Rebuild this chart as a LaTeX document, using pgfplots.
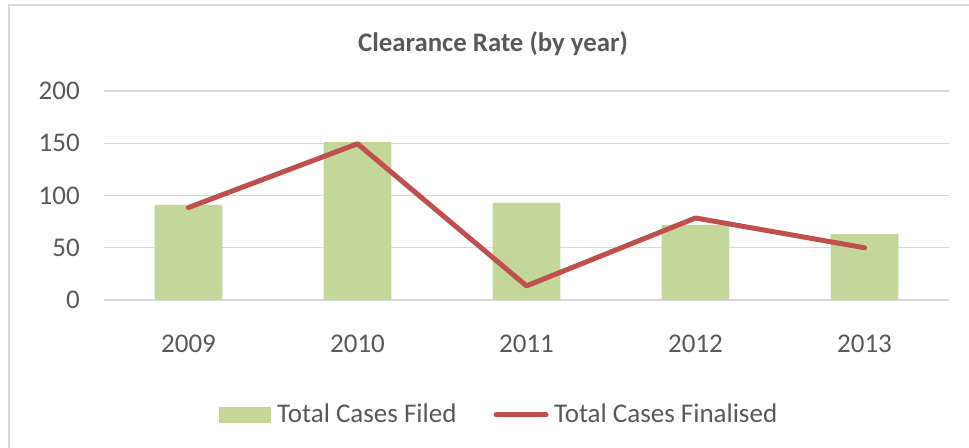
\documentclass[border=0pt]{standalone}
\usepackage{fontspec}
\setmainfont{Carlito}
\usepackage{pgfplots}
\pgfplotsset{compat=1.18}
\definecolor{barfill}{HTML}{C4D79B}
\definecolor{linered}{HTML}{C0504D}
\definecolor{txtgray}{HTML}{595959}
\definecolor{gridgray}{HTML}{D9D9D9}

\begin{document}
\fontsize{27bp}{32bp}\selectfont
\begin{tikzpicture}
% page = 969 x 448, plot area lower left at (0,0)
\path[use as bounding box] (-104bp,-148bp) rectangle (865bp,300bp);
\draw[gridgray, line width=1.4bp] (-95bp,-160bp) -- (-95bp,295bp) -- (880bp,295bp);
\node[anchor=base, text=txtgray, font=\fontsize{26.8bp}{32bp}\selectfont\bfseries, inner sep=0pt] at (389bp,248bp) {Clearance Rate (by year)};
\begin{axis}[
  at={(0bp,0bp)}, anchor=south west,
  scale only axis, width=845bp, height=209bp,
  xmin=-0.5, xmax=4.5, ymin=0, ymax=200,
  xtick={0,...,4}, xticklabels={2009,2010,2011,2012,2013},
  ytick={0,50,...,200},
  ymajorgrids, grid style={gridgray, line width=1.4bp},
  axis line style={draw=none},
  major tick length=0pt,
  tick label style={text=txtgray, inner sep=0pt, font=\fontsize{27bp}{32bp}\selectfont},
  /pgf/number format/assume math mode=true,
  xticklabel style={anchor=north, yshift=-35bp},
  yticklabel style={anchor=east, xshift=-24bp},
  legend style={at={(0.1361,-0.5502)}, anchor=west, draw=none, fill=none,
    inner sep=0pt, legend columns=2,
    nodes={inner sep=0pt, text=txtgray, font=\fontsize{27bp}{32bp}\selectfont},
    /tikz/every even column/.append style={column sep=37bp}},
  legend cell align=left,
]
\addplot[ybar, bar width=67.7bp, fill=barfill, draw=none,
  legend image code/.code={\fill[barfill] (0bp,-8bp) rectangle (52bp,8bp); \path (58bp,0bp);}]
  coordinates {(0,91) (1,151) (2,93) (3,72) (4,63)};
\addlegendentry{Total Cases Filed}
\addplot[sharp plot, mark=none, color=linered, line width=5bp, line cap=round, line join=round,
  legend image code/.code={\draw[linered, line width=5bp, line cap=round] (2.5bp,0bp) -- (52.5bp,0bp); \path (58bp,0bp);}]
  coordinates {(0,88.5) (1,149.5) (2,13.5) (3,78.5) (4,50)};
\addlegendentry{Total Cases Finalised}
\end{axis}
\end{tikzpicture}
\end{document}
